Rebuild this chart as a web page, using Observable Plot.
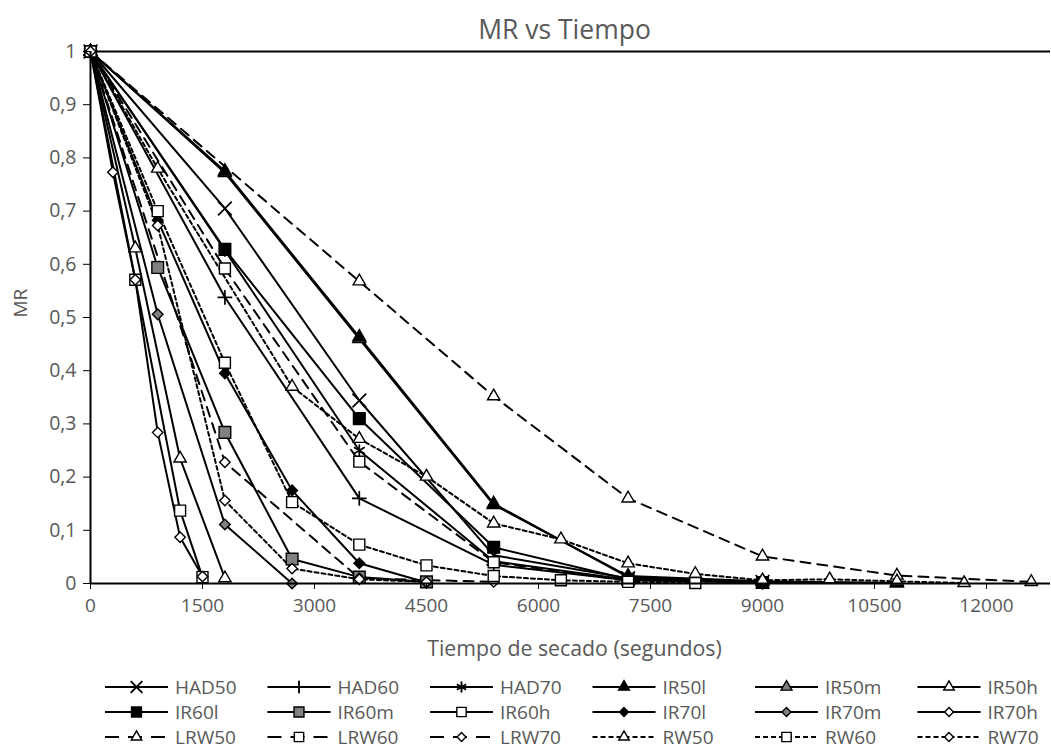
<!DOCTYPE html>
<html><head><meta charset="utf-8">
<script src="https://cdn.jsdelivr.net/npm/d3@7"></script>
<script src="https://cdn.jsdelivr.net/npm/@observablehq/plot@0.6"></script>
<style>
body{margin:0;background:#fff;}
#chart{position:relative;width:1051px;height:751px;overflow:hidden;font-family:"Open Sans",sans-serif;}
#legend{position:absolute;left:0;top:660px;}
</style></head><body><div id="chart"></div>
<script>
// ---- data: [tiempo (s), MR] ----
const HAD50 = [[0,1],[1800,0.705],[3600,0.344],[5400,0.053],[7200,0.01],[9000,0.003]];
const HAD60 = [[0,1],[1800,0.538],[3600,0.16],[5400,0.035],[7200,0.006],[9000,0.002]];
const HAD70 = [[0,1],[1800,0.626],[3600,0.25],[5400,0.042],[7200,0.007],[9000,0.002]];
const IR50l = [[0,1],[1800,0.775],[3600,0.463],[5400,0.15],[7200,0.012],[9000,0.003],[10800,0.001]];
const IR50m = [[0,1],[1800,0.772],[3600,0.46],[5400,0.148],[7200,0.014],[9000,0.004],[10800,0.001]];
const IR50h = [[0,1],[600,0.63],[1200,0.235],[1800,0.01]];
const IR60l = [[0,1],[1800,0.628],[3600,0.31],[5400,0.068],[7200,0.008],[9000,0.002]];
const IR60m = [[0,1],[900,0.594],[1800,0.284],[2700,0.046],[3600,0.012],[4500,0.003]];
const IR60h = [[0,1],[600,0.571],[1200,0.137],[1500,0.012]];
const IR70l = [[0,1],[900,0.683],[1800,0.395],[2700,0.175],[3600,0.038],[4500,0.002]];
const IR70m = [[0,1],[900,0.506],[1800,0.111],[2700,0.0]];
const IR70h = [[0,1],[300,0.773],[600,0.571],[900,0.284],[1200,0.087],[1500,0.013]];
const LRW50 = [[0,1],[3600,0.568],[5400,0.352],[7200,0.16],[9000,0.051],[10800,0.015],[12600,0.003]];
const LRW60 = [[0,1],[1800,0.592],[3600,0.229],[5400,0.04],[7200,0.005]];
const LRW70 = [[0,1],[1800,0.228],[3600,0.01],[5400,0.003]];
const RW50 = [[0,1],[900,0.78],[2700,0.37],[3600,0.272],[4500,0.201],[5400,0.113],[6300,0.083],[7200,0.038],[8100,0.018],[9000,0.006],[9900,0.008],[10800,0.004],[11700,0.001]];
const RW60 = [[0,1],[900,0.70],[1800,0.415],[2700,0.153],[3600,0.073],[4500,0.034],[5400,0.014],[6300,0.006],[7200,0.003],[8100,0.001]];
const RW70 = [[0,1],[900,0.673],[1800,0.156],[2700,0.028],[3600,0.008],[4500,0.003]];

const seriesNames = ["HAD50","HAD60","HAD70","IR50l","IR50m","IR50h","IR60l","IR60m","IR60h","IR70l","IR70m","IR70h","LRW50","LRW60","LRW70","RW50","RW60","RW70"];
const seriesData = [HAD50,HAD60,HAD70,IR50l,IR50m,IR50h,IR60l,IR60m,IR60h,IR70l,IR70m,IR70h,LRW50,LRW60,LRW70,RW50,RW60,RW70];
const xTicks = [0,1500,3000,4500,6000,7500,9000,10500,12000];
const yTicks = [0,0.1,0.2,0.3,0.4,0.5,0.6,0.7,0.8,0.9,1];
const titleText = "MR vs Tiempo";
const xLabel = "Tiempo de secado (segundos)";
const yLabel = "MR";

// ---- styles ----
const GRAY = "#808080";
const LONG = "10,7", SHORT = "4,3";
const styles = {
  HAD50:{sym:"times",fill:"none",dash:null,r:6.3},
  HAD60:{sym:"plus",fill:"none",dash:null,r:4.8},
  HAD70:{sym:"asterisk",fill:"none",dash:null,r:6},
  IR50l:{sym:"triangle",fill:"black",dash:null,r:4.8},
  IR50m:{sym:"triangle",fill:GRAY,dash:null,r:4.8},
  IR50h:{sym:"triangle",fill:"white",dash:null,r:4.6},
  IR60l:{sym:"square",fill:"black",dash:null,r:6.6},
  IR60m:{sym:"square",fill:GRAY,dash:null,r:6.6},
  IR60h:{sym:"square",fill:"white",dash:null,r:6.2},
  IR70l:{sym:"diamond2",fill:"black",dash:null,r:4.8},
  IR70m:{sym:"diamond2",fill:GRAY,dash:null,r:4.8},
  IR70h:{sym:"diamond2",fill:"white",dash:null,r:4.7},
  LRW50:{sym:"triangle",fill:"white",dash:LONG,r:4.6},
  LRW60:{sym:"square",fill:"white",dash:LONG,r:6.2},
  LRW70:{sym:"diamond2",fill:"white",dash:LONG,r:4.7},
  RW50:{sym:"triangle",fill:"white",dash:SHORT,r:4.6},
  RW60:{sym:"square",fill:"white",dash:SHORT,r:6.2},
  RW70:{sym:"diamond2",fill:"white",dash:SHORT,r:4.7}
};
// dots drawn in this order (IR50m sits beneath IR50l)
const dotOrder = ["IR50m","HAD50","HAD60","HAD70","IR50l","IR50h","IR60l","IR60m","IR60h","IR70l","IR70m","IR70h","LRW50","LRW60","LRW70","RW50","RW60","RW70"];

const TXT = "#595959";
const marks = [
  Plot.ruleY([1], {stroke:"black", strokeWidth:2}),
];
seriesNames.forEach((name, i) => {
  const st = styles[name];
  marks.push(Plot.line(seriesData[i], {x: d => d[0], y: d => d[1], stroke: "black", strokeWidth: 2, strokeDasharray: st.dash || undefined}));
});
dotOrder.forEach(name => {
  const st = styles[name];
  const data = seriesData[seriesNames.indexOf(name)];
  marks.push(Plot.dot(data, {x: d => d[0], y: d => d[1], symbol: st.sym, r: st.r, fill: st.fill, stroke: "black", strokeWidth: st.fill === "none" ? 1.7 : 1.4}));
});
marks.push(
  Plot.ruleX([0], {stroke:"black", strokeWidth:2}),
  Plot.ruleY([0], {stroke:"black", strokeWidth:2}),
  Plot.axisX({ticks: xTicks, tickSize: 6, tickPadding: 9, tickFormat: d => String(d), stroke: "black", fill: TXT, fontSize: 19, label: null}),
  Plot.axisY({ticks: yTicks, tickSize: 7, tickPadding: 7, tickFormat: d => String(d).replace(".", ","), stroke: "black", fill: TXT, fontSize: 19.5, label: null}),
  Plot.text([titleText], {frameAnchor: "top", dx: -6, dy: -31, text: d => d, fill: TXT, fontSize: 26.5}),
  Plot.text([xLabel], {frameAnchor: "bottom", dx: 4, dy: 72, text: d => d, fill: TXT, fontSize: 21.3}),
  Plot.text([yLabel], {frameAnchor: "left", dx: -70, rotate: -90, text: d => d, fill: TXT, fontSize: 19})
);

const plot = Plot.plot({
  width: 1051, height: 660,
  marginLeft: 90, marginRight: 1, marginTop: 51, marginBottom: 77,
  style: {fontFamily: "Open Sans", background: "white", overflow: "visible"},
  x: {domain: [0, 12857]},
  y: {domain: [0, 1]},
  marks
});
const chart = document.getElementById("chart");
chart.appendChild(plot);

// ---- legend ----
const symMap = {times: d3.symbolTimes, plus: d3.symbolPlus, asterisk: d3.symbolAsterisk, triangle: d3.symbolTriangle, square: d3.symbolSquare, diamond2: d3.symbolDiamond2};
const lg = d3.select(chart).append("svg").attr("id","legend").attr("width",1051).attr("height",91)
  .style("font-family","Open Sans");
const colX0 = 105, colW = 162.5, rowY0 = 27, rowH = 25, sampleW = 63;
seriesNames.forEach((name, i) => {
  const st = styles[name];
  const col = i % 6, row = Math.floor(i / 6);
  const x = colX0 + col * colW, y = rowY0 + row * rowH;
  const g = lg.append("g").attr("transform", `translate(${x},${y})`);
  g.append("line").attr("x1",0).attr("x2",sampleW).attr("y1",0).attr("y2",0)
    .attr("stroke","black").attr("stroke-width",2).attr("stroke-dasharray", st.dash ? (st.dash === LONG ? "14,9" : "5,3") : null);
  const rr = st.r * 0.85;
  g.append("path").attr("transform",`translate(${sampleW/2},0)`)
    .attr("d", d3.symbol(symMap[st.sym], Math.PI * rr * rr)())
    .attr("fill", st.fill).attr("stroke","black").attr("stroke-width", st.fill === "none" ? 1.9 : 1.4);
  g.append("text").attr("x", sampleW + 7).attr("y", 0).attr("dy","0.35em")
    .attr("fill", TXT).attr("font-size", 19).text(name);
});
</script></body></html>
